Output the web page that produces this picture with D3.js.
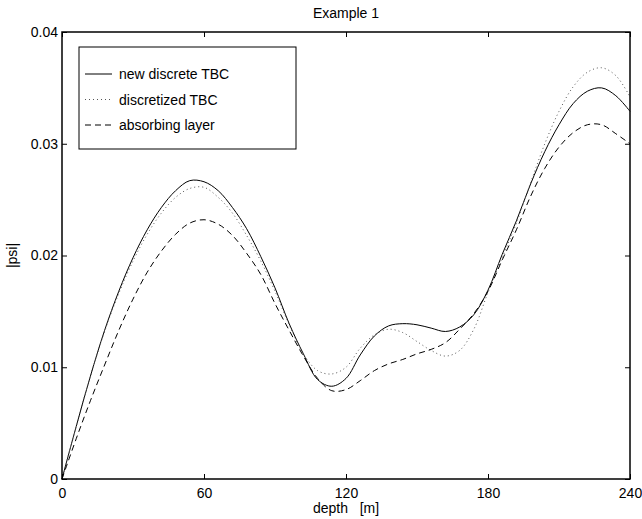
<!DOCTYPE html>
<html lang="en">
<head>
    <meta charset="UTF-8">
    <title>Example 1</title>
    <script src="https://d3js.org/d3.v7.min.js"></script>
    <style>
        body {
            margin: 0;
            background-color: #ffffff;
            font-family: "Liberation Sans", Arial, sans-serif;
        }
        svg text {
            font-family: "Liberation Sans", Arial, sans-serif;
            fill: #000;
        }
    </style>
</head>
<body>
    <div id="chart"></div>
    <script>
        // depth grid [m] and the three |psi| curves
        const depth = [0, 6, 12, 18, 24, 30, 36, 42, 48, 54, 60, 66, 72, 78, 84, 90, 96, 102, 108, 114,
            120, 126, 132, 138, 144, 150, 156, 162, 168, 174, 180, 186, 192, 198, 204, 210, 216, 222, 228, 234, 240];

        const newDiscrete = [0, 0.0047, 0.0092, 0.0133, 0.0168, 0.0198, 0.0223, 0.0243, 0.0258, 0.0267, 0.0266,
            0.0258, 0.0243, 0.0224, 0.0199, 0.0171, 0.0139, 0.0112, 0.0089, 0.0083,
            0.0090, 0.0111, 0.0128, 0.0137, 0.0139, 0.0138, 0.0135, 0.0132, 0.0136, 0.0147,
            0.0169, 0.0201, 0.0231, 0.0264, 0.0293, 0.0317, 0.0336, 0.0347, 0.0350, 0.0343, 0.0329];

        const discretized = [0, 0.0047, 0.0092, 0.0132, 0.0166, 0.0195, 0.0219, 0.0238, 0.0252, 0.0260, 0.0261,
            0.0252, 0.0238, 0.0218, 0.0195, 0.0168, 0.0138, 0.0112, 0.0097, 0.0094,
            0.0100, 0.0117, 0.0129, 0.0134, 0.0131, 0.0123, 0.0115, 0.0110, 0.0115, 0.0134,
            0.0167, 0.0198, 0.0229, 0.0265, 0.0300, 0.0329, 0.0351, 0.0364, 0.0368, 0.0361, 0.0342];

        const absorbing = [0, 0.0036, 0.0070, 0.0102, 0.0133, 0.0161, 0.0185, 0.0204, 0.0219, 0.0229, 0.0232,
            0.0228, 0.0218, 0.0202, 0.0183, 0.0157, 0.0133, 0.0110, 0.0090, 0.0079,
            0.0080, 0.0088, 0.0097, 0.0103, 0.0107, 0.0112, 0.0116, 0.0122, 0.0134, 0.0148,
            0.0168, 0.0196, 0.0223, 0.0253, 0.0278, 0.0297, 0.0310, 0.0317, 0.0317, 0.0309, 0.0300];

        const xTicks = [0, 60, 120, 180, 240];
        const yTicks = [0, 0.01, 0.02, 0.03, 0.04];
        const legendLabels = ["new discrete TBC", "discretized TBC", "absorbing layer"];

        const width = 642, height = 519;
        const margin = { top: 32, right: 12, bottom: 40, left: 62 };

        const svg = d3.select("#chart").append("svg")
            .attr("width", width)
            .attr("height", height);

        const x = d3.scaleLinear().domain([0, 240]).range([margin.left, width - margin.right]);
        const y = d3.scaleLinear().domain([0, 0.04]).range([height - margin.bottom, margin.top]);

        const styles = [
            { stroke: "#000", dash: null, width: 1 },
            { stroke: "#555", dash: "1,3", width: 1 },
            { stroke: "#000", dash: "6,4", width: 1 }
        ];
        const series = [newDiscrete, discretized, absorbing];

        const line = d3.line()
            .x(d => x(d[0]))
            .y(d => y(d[1]))
            .curve(d3.curveCatmullRom.alpha(0.5));

        series.forEach((vals, i) => {
            svg.append("path")
                .datum(depth.map((dd, j) => [dd, vals[j]]))
                .attr("fill", "none")
                .attr("stroke", styles[i].stroke)
                .attr("stroke-width", styles[i].width)
                .attr("stroke-dasharray", styles[i].dash)
                .attr("d", line);
        });

        // axes (matlab style: box + inward ticks)
        const tickLen = 5;
        const x0 = x.range()[0], x1 = x.range()[1];
        const y0 = y.range()[0], y1 = y.range()[1];

        svg.append("g")
            .attr("transform", `translate(0,${y0})`)
            .call(d3.axisBottom(x).tickValues(xTicks).tickSize(-tickLen).tickPadding(9).tickFormat(d3.format("d")))
            .call(g => g.select(".domain").remove());
        svg.append("g")
            .attr("transform", `translate(0,${y1})`)
            .call(d3.axisTop(x).tickValues(xTicks).tickSize(-tickLen).tickFormat(""))
            .call(g => g.select(".domain").remove());
        svg.append("g")
            .attr("transform", `translate(${x0},0)`)
            .call(d3.axisLeft(y).tickValues(yTicks).tickSize(-tickLen).tickPadding(4).tickFormat(d => d === 0 ? "0" : d3.format(".2f")(d)))
            .call(g => g.select(".domain").remove());
        svg.append("g")
            .attr("transform", `translate(${x1},0)`)
            .call(d3.axisRight(y).tickValues(yTicks).tickSize(-tickLen).tickFormat(""))
            .call(g => g.select(".domain").remove());

        svg.selectAll(".tick text").attr("font-size", 14).attr("font-family", "Liberation Sans, Arial, sans-serif");
        svg.selectAll(".tick line").attr("stroke", "#000");

        svg.append("rect")
            .attr("x", x0).attr("y", y1)
            .attr("width", x1 - x0).attr("height", y0 - y1)
            .attr("fill", "none")
            .attr("stroke", "#000")
            .attr("stroke-width", 1.5);

        // labels
        svg.append("text")
            .attr("x", (x0 + x1) / 2).attr("y", 18)
            .attr("text-anchor", "middle")
            .attr("font-size", 14)
            .text("Example 1");

        svg.append("text")
            .attr("x", (x0 + x1) / 2).attr("y", 513)
            .attr("text-anchor", "middle")
            .attr("font-size", 14)
            .style("white-space", "pre")
            .text("depth   [m]");

        svg.append("text")
            .attr("transform", `translate(17,${(y0 + y1) / 2}) rotate(-90)`)
            .attr("text-anchor", "middle")
            .attr("font-size", 14)
            .text("|psi|");

        // legend
        const legend = svg.append("g");
        legend.append("rect")
            .attr("x", 79).attr("y", 47)
            .attr("width", 217).attr("height", 102)
            .attr("fill", "#fff")
            .attr("stroke", "#000")
            .attr("stroke-width", 1);

        legendLabels.forEach((lab, i) => {
            const ly = 74 + i * 25.5;
            legend.append("line")
                .attr("x1", 85).attr("x2", 112)
                .attr("y1", ly).attr("y2", ly)
                .attr("stroke", styles[i].stroke)
                .attr("stroke-width", styles[i].width)
                .attr("stroke-dasharray", styles[i].dash);
            legend.append("text")
                .attr("x", 119).attr("y", ly + 5)
                .attr("font-size", 14)
                .text(lab);
        });
    </script>
</body>
</html>
